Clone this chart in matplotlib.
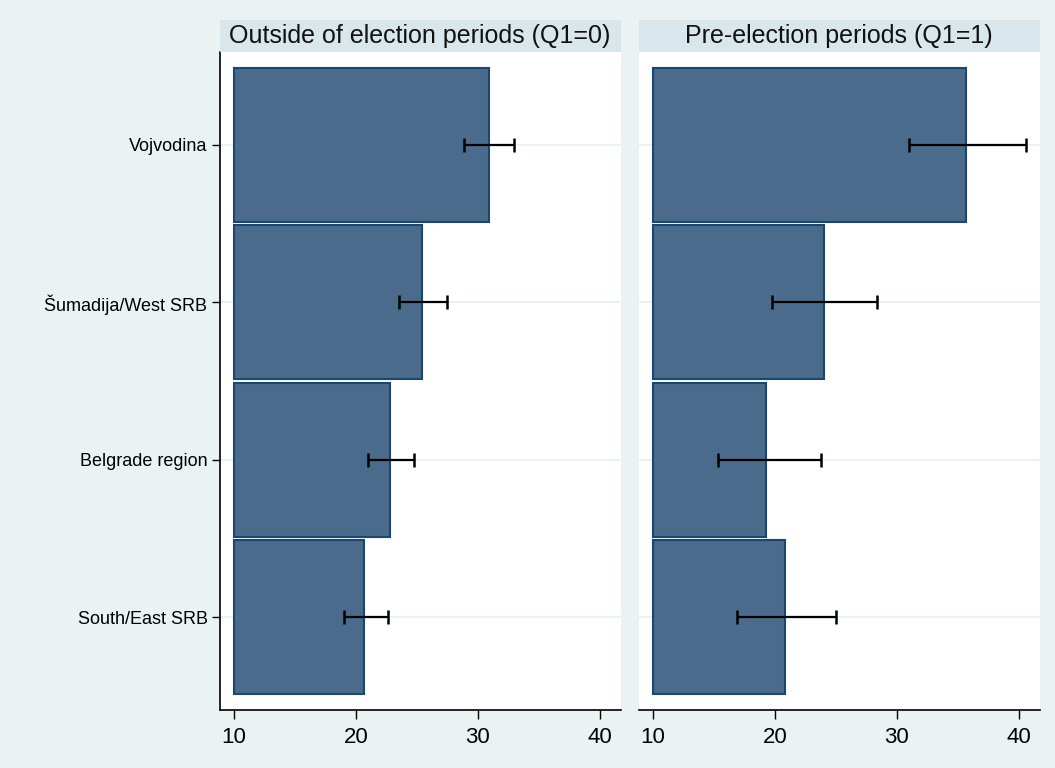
import matplotlib
matplotlib.use('Agg')
import matplotlib.pyplot as plt
from matplotlib.patches import Rectangle
import numpy as np

plt.rcParams['font.family'] = ['Liberation Sans', 'DejaVu Sans']

# data
regions = ['Vojvodina', 'Šumadija/West SRB', 'Belgrade region', 'South/East SRB']
panel_titles = ['Outside of election periods (Q1=0)', 'Pre-election periods (Q1=1)']
outside_mean = [30.9, 25.4, 22.8, 20.7]
outside_lo = [28.9, 23.5, 21.0, 19.0]
outside_hi = [33.0, 27.5, 24.8, 22.6]
pre_mean = [35.7, 24.0, 19.3, 20.8]
pre_lo = [31.0, 19.8, 15.3, 16.9]
pre_hi = [40.6, 28.4, 23.8, 25.0]
xticks = [10, 20, 30, 40]

bg = '#EAF2F3'
strip = '#D9E6EB'
bar_fill = '#4A6B8B'
bar_edge = '#1A476F'

W, H = 1055, 768
fig = plt.figure(figsize=(W / 100, H / 100), dpi=100, facecolor=bg)

panels = [
    (220, panel_titles[0], outside_mean, outside_lo, outside_hi, True),
    (639, panel_titles[1], pre_mean, pre_lo, pre_hi, False),
]

ypos = np.arange(len(regions))
for x0, title, mean, lo, hi, show_y in panels:
    ax = fig.add_axes([x0 / W, 1 - 710 / H, 401 / W, 658 / H])
    ax.set_facecolor('white')

    # faint gridlines at the category centres
    for y in ypos:
        ax.axhline(y, color=bg, lw=1.5, zorder=0)

    mean = np.array(mean)
    ax.barh(ypos, mean - 10, left=10, height=0.98, color=bar_fill,
            edgecolor=bar_edge, linewidth=1.5, zorder=2)
    err = [mean - np.array(lo), np.array(hi) - mean]
    ax.errorbar(mean, ypos, xerr=err, fmt='none', ecolor='black',
                elinewidth=1.6, capsize=5, capthick=1.8, zorder=3)

    ax.set_xlim(8.85, 41.75)
    ax.set_ylim(3.59, -0.59)
    ax.set_xticks(xticks)
    ax.set_xticklabels([str(t) for t in xticks], fontsize=16)
    ax.tick_params(axis='x', length=6.5, width=1, pad=6, colors='black')

    for s in ['top', 'right']:
        ax.spines[s].set_visible(False)
    ax.spines['bottom'].set_linewidth(1.2)

    if show_y:
        ax.set_yticks(ypos)
        ax.set_yticklabels(regions, fontsize=13)
        ax.tick_params(axis='y', length=6, width=1, pad=3)
        ax.spines['left'].set_linewidth(1.2)
    else:
        ax.set_yticks([])
        ax.spines['left'].set_visible(False)

    # title strip above each panel
    fig.patches.append(Rectangle((x0 / W, 1 - 52 / H), 401 / W, 32 / H,
                                 transform=fig.transFigure, facecolor=strip,
                                 edgecolor='none'))
    fig.text((x0 + 200) / W, 1 - 36 / H, title, fontsize=18,
             ha='center', va='center', color='#111111')

fig.savefig('out.png', dpi=100, facecolor=bg)
